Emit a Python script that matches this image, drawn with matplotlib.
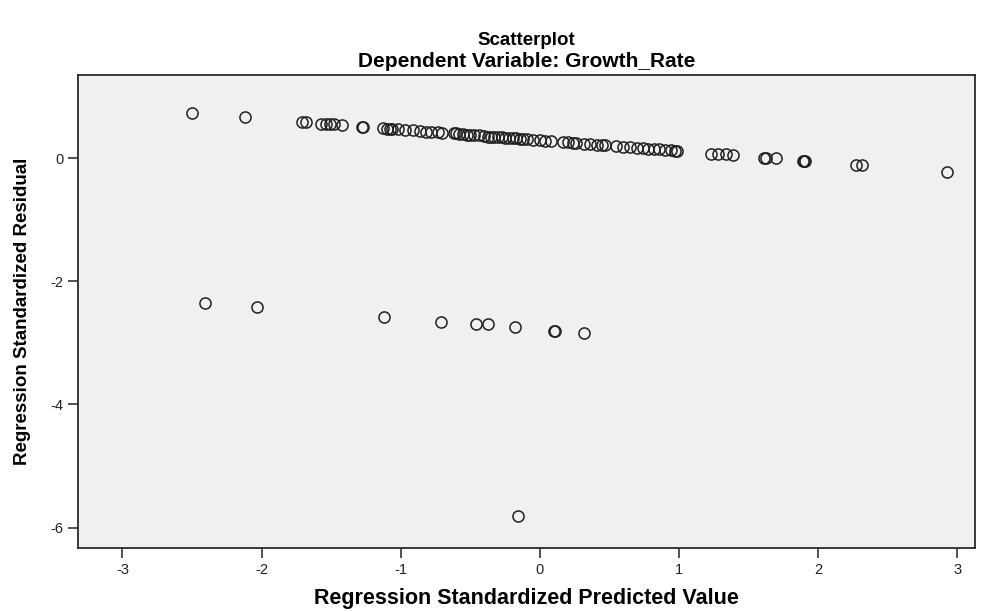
import matplotlib
matplotlib.use("Agg")
import matplotlib.pyplot as plt

plt.rcParams['font.family'] = ['Liberation Sans', 'DejaVu Sans']
plt.rcParams['axes.unicode_minus'] = False

# main band of residuals (predicted, residual)
pred_main = [-2.50, -2.12, -1.71, -1.68, -1.57, -1.54, -1.51, -1.48, -1.42, -1.28,
             -1.27, -1.13, -1.10, -1.08, -1.06, -1.02, -0.97, -0.91, -0.86, -0.82,
             -0.78, -0.73, -0.70, -0.62, -0.60, -0.58, -0.55, -0.52, -0.50, -0.47,
             -0.44, -0.40, -0.37, -0.35, -0.33, -0.30, -0.27, -0.25, -0.22, -0.19,
             -0.17, -0.14, -0.12, -0.09, -0.05, 0.00, 0.04, 0.08, 0.17, 0.20,
             0.24, 0.26, 0.32, 0.36, 0.41, 0.45, 0.47, 0.55, 0.60, 0.65,
             0.70, 0.74, 0.78, 0.82, 0.86, 0.90, 0.94, 0.97, 0.99, 1.23,
             1.28, 1.34, 1.39, 1.61, 1.63, 1.70, 1.89, 1.90, 1.91, 2.27,
             2.32, 2.93]
resid_main = [0.73, 0.67, 0.59, 0.58, 0.56, 0.56, 0.55, 0.55, 0.54, 0.51,
              0.51, 0.49, 0.48, 0.48, 0.48, 0.47, 0.46, 0.45, 0.44, 0.43,
              0.43, 0.42, 0.41, 0.40, 0.40, 0.39, 0.39, 0.38, 0.38, 0.37,
              0.37, 0.36, 0.35, 0.35, 0.35, 0.34, 0.34, 0.33, 0.33, 0.32,
              0.32, 0.31, 0.31, 0.31, 0.30, 0.29, 0.28, 0.28, 0.26, 0.26,
              0.25, 0.24, 0.23, 0.23, 0.22, 0.21, 0.21, 0.19, 0.18, 0.18,
              0.17, 0.16, 0.15, 0.15, 0.14, 0.13, 0.13, 0.12, 0.12, 0.07,
              0.07, 0.06, 0.05, 0.01, 0.01, 0.00, -0.04, -0.04, -0.04, -0.11,
              -0.11, -0.22]

# lower group + the big outlier
pred_low = [-2.41, -2.03, -1.12, -0.71, -0.46, -0.37, -0.18, 0.10, 0.11, 0.32, -0.16]
resid_low = [-2.35, -2.42, -2.58, -2.66, -2.69, -2.69, -2.74, -2.81, -2.81, -2.84, -5.81]

xticks = [-3, -2, -1, 0, 1, 2, 3]
yticks = [0, -2, -4, -6]

fig = plt.figure(figsize=(9.92, 6.12), dpi=100)
ax = fig.add_axes([0.0786, 0.1046, 0.9044, 0.7729])
ax.set_facecolor('#f0f0f0')

ax.plot(pred_main + pred_low, resid_main + resid_low, 'o', markersize=8,
        markerfacecolor='none', markeredgecolor='#202020', markeredgewidth=1.1)

ax.set_xlim(-3.32, 3.13)
ax.set_ylim(-6.33, 1.35)
ax.set_xticks(xticks)
ax.set_yticks(yticks)
ax.tick_params(direction='out', length=7, width=1.2, colors='#333333', labelsize=10.5,
               labelcolor='#222222')
for s in ax.spines.values():
    s.set_color('#2a2a2a')
    s.set_linewidth(1.3)

ax.set_xlabel('Regression Standardized Predicted Value', fontsize=15.5,
              fontweight='bold', labelpad=8)
ax.set_ylabel('Regression Standardized Residual', fontsize=13.5,
              fontweight='bold', labelpad=14)

fig.text(0.531, 0.934, 'Scatterplot', ha='center', va='center', fontsize=13.5,
         fontweight='bold')
fig.text(0.531, 0.899, 'Dependent Variable: Growth_Rate', ha='center', va='center',
         fontsize=15, fontweight='bold')

fig.savefig('out.png', dpi=100, facecolor='white')
